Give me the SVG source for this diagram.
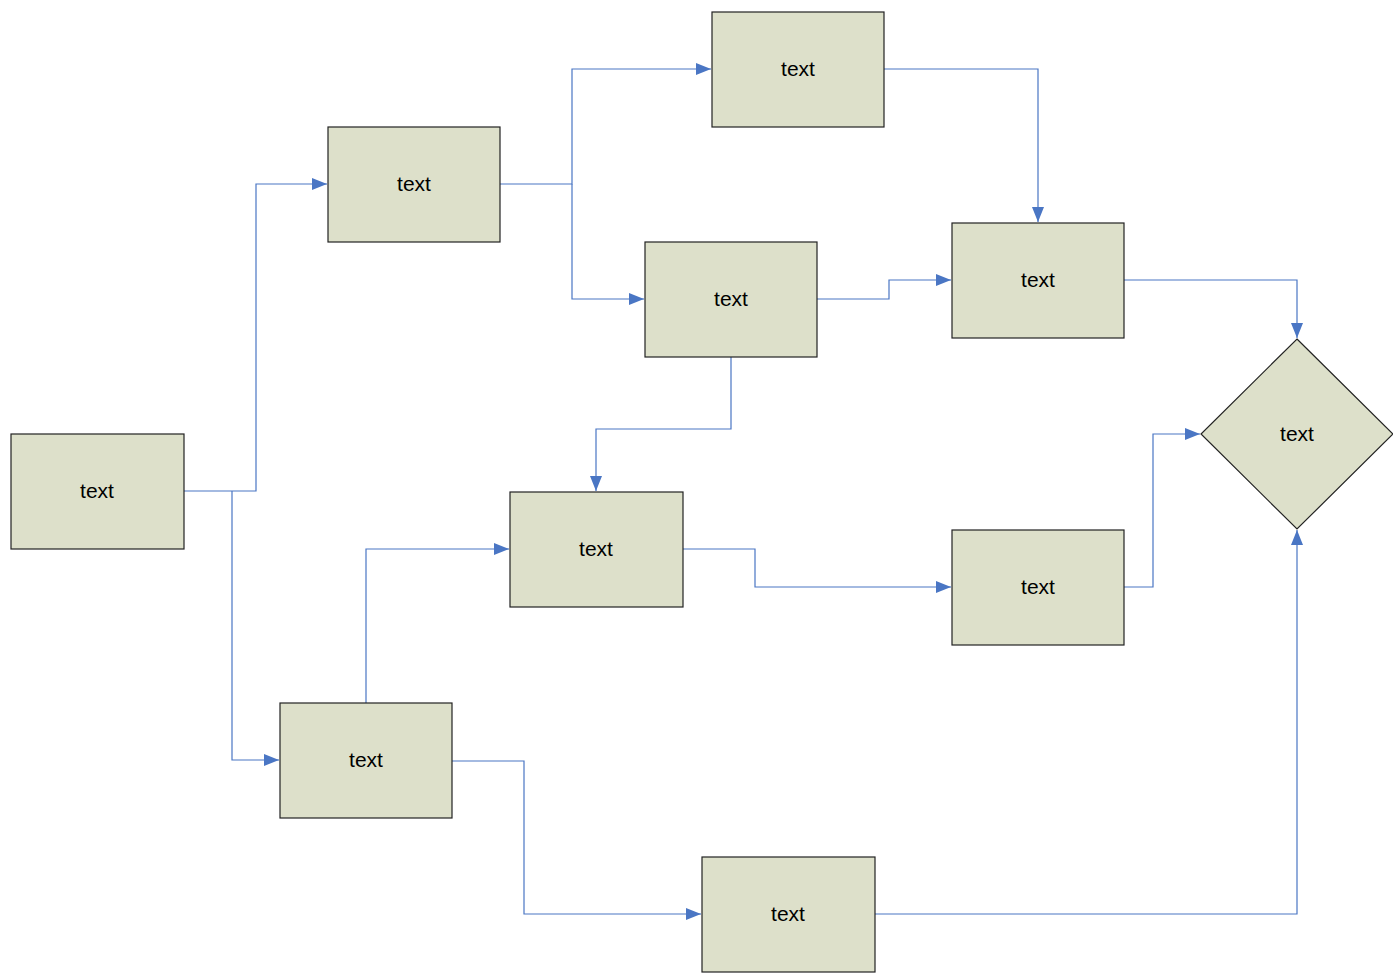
<svg xmlns="http://www.w3.org/2000/svg" width="1393" height="973" viewBox="0 0 1393 973">
<style>
.n{fill:#DDE0CA;stroke:#222;stroke-width:1.2}
.t{font-family:"Liberation Sans",Arial,sans-serif;font-size:21px;fill:#000;text-anchor:middle;dominant-baseline:central}
.c{fill:none;stroke:#4A76C4;stroke-width:1.2;marker-end:url(#a)}
</style>
<defs>
<marker id="a" viewBox="0 0 15 12" refX="15" refY="6" markerWidth="15" markerHeight="12" markerUnits="userSpaceOnUse" orient="auto">
<path d="M0,0L15,6L0,12Z" fill="#4A76C4"/>
</marker>
</defs>
<rect width="1393" height="973" fill="#fff"/>
<g id="connectors">
<path class="c" d="M184,491H256V184H327"/>
<path class="c" d="M232,491V760H279"/>
<path class="c" d="M500,184H572V69H711"/>
<path class="c" d="M572,184V299H644"/>
<path class="c" d="M884,69H1038V222"/>
<path class="c" d="M817,299H889V280H951"/>
<path class="c" d="M1124,280H1297V338"/>
<path class="c" d="M731,357V429H596V491"/>
<path class="c" d="M683,549H755V587H951"/>
<path class="c" d="M1124,587H1153V434H1200"/>
<path class="c" d="M366,703V549H509"/>
<path class="c" d="M452,761H524V914H701"/>
<path class="c" d="M875,914H1297V530"/>
</g>
<g id="nA"><rect class="n" x="11" y="434" width="173" height="115"/><text class="t" x="97" y="490">text</text></g>
<g id="nB"><rect class="n" x="328" y="127" width="172" height="115"/><text class="t" x="414" y="183">text</text></g>
<g id="nC"><rect class="n" x="712" y="12" width="172" height="115"/><text class="t" x="798" y="68">text</text></g>
<g id="nD"><rect class="n" x="645" y="242" width="172" height="115"/><text class="t" x="731" y="298">text</text></g>
<g id="nE"><rect class="n" x="952" y="223" width="172" height="115"/><text class="t" x="1038" y="279">text</text></g>
<g id="nDec"><path class="n" d="M1297,339L1393,434L1297,529L1201,434Z"/><text class="t" x="1297" y="433">text</text></g>
<g id="nF"><rect class="n" x="510" y="492" width="173" height="115"/><text class="t" x="596" y="548">text</text></g>
<g id="nG"><rect class="n" x="952" y="530" width="172" height="115"/><text class="t" x="1038" y="586">text</text></g>
<g id="nH"><rect class="n" x="280" y="703" width="172" height="115"/><text class="t" x="366" y="759">text</text></g>
<g id="nI"><rect class="n" x="702" y="857" width="173" height="115"/><text class="t" x="788" y="913">text</text></g>
</svg>
